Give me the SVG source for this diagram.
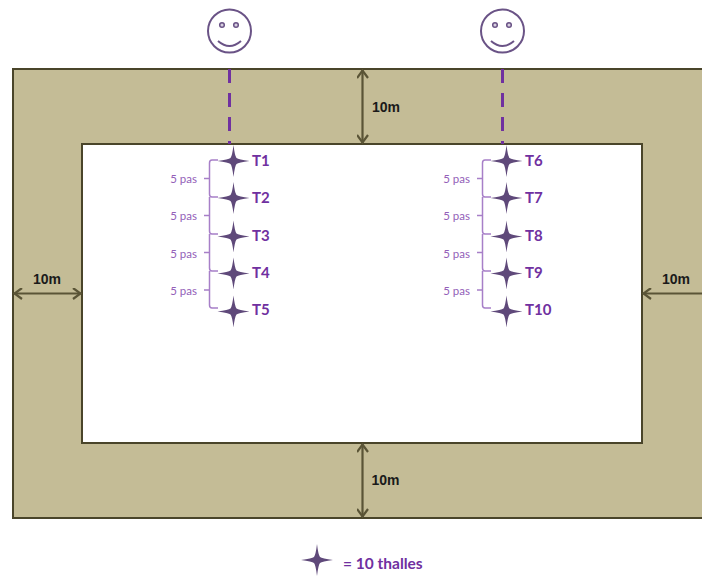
<svg xmlns="http://www.w3.org/2000/svg" width="702" height="576" viewBox="0 0 702 576">
<defs>
<path id="star" d="M0,-16 Q1.300,-5 3,-3 Q5,-1.300 16,0 Q5,1.300 3,3 Q1.300,5 0,16 Q-1.300,5 -3,3 Q-5,1.300 -16,0 Q-5,-1.300 -3,-3 Q-1.300,-5 0,-16Z"/>
<marker id="ah" viewBox="0 0 12 12" refX="11" refY="6" markerWidth="12" markerHeight="12" markerUnits="userSpaceOnUse" orient="auto-start-reverse"><path d="M3,0.500 L10.500,6 L3,11.500" fill="none" stroke="#5a5436" stroke-width="2.200"/></marker>
</defs>
<style>
.field{fill:#c4bc96;stroke:#4a452a;stroke-width:2}
.inner{fill:#fff;stroke:#4a452a;stroke-width:2}
.dim{stroke:#5a5436;stroke-width:2.200;fill:none;marker-start:url(#ah);marker-end:url(#ah)}
.dimt{font:bold 14px "Liberation Sans",sans-serif;fill:#1a1a1a}
.face{fill:none;stroke:#6a5386;stroke-width:2}
.eye{fill:#d8d0e0;stroke:#6a5386;stroke-width:1.500}
.dash{stroke:#7030a0;stroke-width:3;stroke-dasharray:14 10;fill:none}
.star{fill:#5f497a}
.tl{font:bold 15px "Lato","Liberation Sans",sans-serif;fill:#7030a0}
.pas{font:11.500px "Lato","Liberation Sans",sans-serif;fill:#9360b8}
.br{fill:none;stroke:#a77fc8;stroke-width:1.500}
.leg{font:bold 15.500px "Lato","Liberation Sans",sans-serif;fill:#7030a0}
</style>
<g id="field">
<rect class="field" x="13" y="69" width="700" height="449"/>
<rect class="inner" x="82" y="144" width="560" height="299"/>
</g>
<g id="connectors">
<path class="dash" d="M229.500,69V144"/>
<path class="dash" d="M502.500,69V144"/>
<path class="dim" d="M362.500,70V143"/>
<path class="dim" d="M362.500,444V517"/>
<path class="dim" d="M14,293.500H81"/>
<path class="dim" d="M643,293.500H702" style="marker-end:none"/>
</g>
<g id="dim-labels">
<text class="dimt" x="372" y="112">10m</text>
<text class="dimt" x="33" y="284">10m</text>
<text class="dimt" x="662" y="284">10m</text>
<text class="dimt" x="371.500" y="485">10m</text>
</g>
<g id="person1"><circle class="face" cx="229.500" cy="31" r="21.500"/><circle class="eye" cx="222" cy="25" r="2.300"/><circle class="eye" cx="236" cy="25" r="2.300"/><path class="face" d="M218,41 Q229.500,51 241,41"/></g>
<g id="person2"><circle class="face" cx="502.500" cy="31" r="21.500"/><circle class="eye" cx="495" cy="25" r="2.300"/><circle class="eye" cx="509" cy="25" r="2.300"/><path class="face" d="M491,41 Q502.500,51 514,41"/></g>
<g id="brackets">
<path class="br" d="M218,160H212Q209.500,160 209.500,163V194Q209.500,197 212,197H218M204,178.500H209.500M209.500,197V231Q209.500,234 212,234H218M204,215.500H209.500M209.500,234V268Q209.500,271 212,271H218M204,252.500H209.500M209.500,271V305Q209.500,308 212,308H218M204,290H209.500"/>
<path class="br" d="M491,160H485Q482.500,160 482.500,163V194Q482.500,197 485,197H491M477,178.500H482.500M482.500,197V231Q482.500,234 485,234H491M477,215.500H482.500M482.500,234V268Q482.500,271 485,271H491M477,252.500H482.500M482.500,271V305Q482.500,308 485,308H491M477,290H482.500"/>
<g class="pas" text-anchor="end">
<text x="197" y="183">5 pas</text><text x="197" y="220">5 pas</text><text x="197" y="258">5 pas</text><text x="197" y="295">5 pas</text>
<text x="470" y="183">5 pas</text><text x="470" y="220">5 pas</text><text x="470" y="258">5 pas</text><text x="470" y="295">5 pas</text>
</g>
</g>
<g id="T1"><use class="star" href="#star" x="233.500" y="161"/><text class="tl" x="252" y="165.500">T1</text></g>
<g id="T2"><use class="star" href="#star" x="233.500" y="198"/><text class="tl" x="252" y="202.500">T2</text></g>
<g id="T3"><use class="star" href="#star" x="233.500" y="236.500"/><text class="tl" x="252" y="240.500">T3</text></g>
<g id="T4"><use class="star" href="#star" x="233.500" y="273.500"/><text class="tl" x="252" y="277.500">T4</text></g>
<g id="T5"><use class="star" href="#star" x="233.500" y="311.500"/><text class="tl" x="252" y="314.500">T5</text></g>
<g id="T6"><use class="star" href="#star" x="506.500" y="161"/><text class="tl" x="525" y="165.500">T6</text></g>
<g id="T7"><use class="star" href="#star" x="506.500" y="198"/><text class="tl" x="525" y="202.500">T7</text></g>
<g id="T8"><use class="star" href="#star" x="506.500" y="236.500"/><text class="tl" x="525" y="240.500">T8</text></g>
<g id="T9"><use class="star" href="#star" x="506.500" y="273.500"/><text class="tl" x="525" y="277.500">T9</text></g>
<g id="T10"><use class="star" href="#star" x="506.500" y="311.500"/><text class="tl" x="525" y="314.500">T10</text></g>
<g id="legend"><use class="star" href="#star" x="317" y="560"/><text class="leg" x="343" y="569">= 10 thalles</text></g>
</svg>
